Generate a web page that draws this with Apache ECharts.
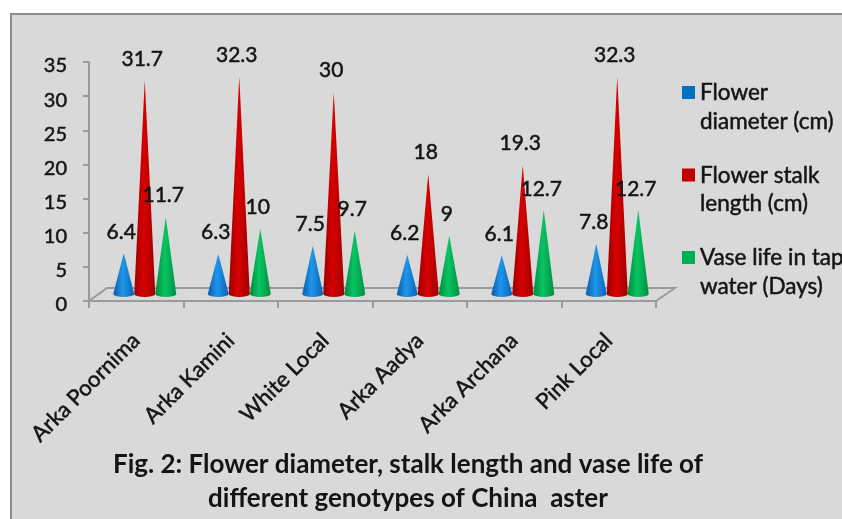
<!DOCTYPE html>
<html><head><meta charset="utf-8">
<style>html,body{margin:0;padding:0;background:#fff}#c{width:842px;height:519px}</style>
<script src="https://cdn.jsdelivr.net/npm/echarts@6/dist/echarts.min.js"></script>
</head><body><div id="c"></div>
<script>
const categories = ['Arka Poornima','Arka Kamini','White Local','Arka Aadya','Arka Archana','Pink Local'];
const flowerDiameter = [6.4,6.3,7.5,6.2,6.1,7.8];
const stalkLength = [31.7,32.3,30,18,19.3,32.3];
const vaseLife = [11.7,10,9.7,9,12.7,12.7];
const seriesNames = ['Flower\ndiameter (cm)','Flower stalk\nlength (cm)','Vase life in tap\nwater (Days)'];
const seriesColors = ['#0070c0','#c00000','#00b050'];
const shades = [['#0a5cab','#1f96ea','#0a62b4'],['#9a0000','#d80000','#a00000'],['#008a3e','#08c562','#008f42']];
const FONT = 'Lato';
const TXT = '#141414';
const HEAVY = {textBorderColor:TXT, textBorderWidth:0.5, textBorderType:'solid'};
const GRID = {left:89, top:62, width:567, height:239};
const pxPerUnit = GRID.height/35;
function cone(v){
  const H = v*pxPerUnit, e = 3;
  return 'path://M10.5 0L21 '+(H-e)+'A10.5 '+e+' 0 0 1 0 '+(H-e)+'Z';
}
function coneSeries(i, values){
  return {
    type:'pictorialBar', name:seriesNames[i], barWidth:21, barGap:0, z:3+i,
    symbolPosition:'start', symbolSize:['100%','100%'], symbolOffset:[8.5,-4], symbolClip:false,
    data:values.map(v=>({value:v, symbol:cone(v)})),
    itemStyle:{color:{type:'linear',x:0,y:0,x2:1,y2:0,colorStops:[
      {offset:0,color:shades[i][0]},{offset:.45,color:shades[i][1]},{offset:1,color:shades[i][2]}]}},
    label:Object.assign({show:true, position:'top', fontFamily:FONT, fontSize:21, color:TXT},HEAVY),
    labelLayout:{hideOverlap:false, dx:6, dy:-6}
  };
}
const chart = echarts.init(document.getElementById('c'),null,{renderer:'canvas'});
chart.setOption({
  animation:false,
  backgroundColor:'#ffffff',
  title:{
    text:'Fig. 2: Flower diameter, stalk length and vase life of\ndifferent genotypes of China  aster',
    left:403, textAlign:'center', top:443,
    textStyle:{fontFamily:FONT, fontSize:26, fontWeight:'bold', color:TXT, lineHeight:34}
  },
  legend:{
    orient:'vertical', left:682, top:78.5, itemWidth:13, itemHeight:42, itemGap:25.5, padding:0,
    icon:'path://M0 0H13V13H0ZM0 42L0 42',
    textStyle:Object.assign({fontFamily:FONT, fontSize:22.5, color:TXT, lineHeight:28.5},HEAVY),
    data:seriesNames.map((n,i)=>({name:n, itemStyle:{color:seriesColors[i]}}))
  },
  grid:Object.assign({containLabel:false},GRID),
  xAxis:{
    type:'category', data:categories,
    axisLine:{lineStyle:{color:'#9a9a9a',width:2}},
    axisTick:{show:true,alignWithLabel:false,length:7,lineStyle:{color:'#9a9a9a',width:2}},
    axisLabel:Object.assign({rotate:45, interval:0, margin:36, fontFamily:FONT, fontSize:22, color:TXT},HEAVY)
  },
  yAxis:{
    type:'value', min:0, max:35, interval:5,
    axisLine:{show:true,lineStyle:{color:'#9a9a9a',width:2}},
    axisTick:{show:true,length:6,lineStyle:{color:'#9a9a9a',width:2}},
    splitLine:{show:false},
    axisLabel:Object.assign({margin:22, fontFamily:FONT, fontSize:20, color:TXT, verticalAlign:'top', lineHeight:8},HEAVY)
  },
  graphic:[
    {type:'rect', z:-10, shape:{x:11,y:14,width:900,height:600}, style:{fill:'#d9d9d9',stroke:'#8c8c8c',lineWidth:2}},
    {type:'polyline', z:1, shape:{points:[[89,301],[107,288],[675,288],[656,301]]}, style:{fill:null,stroke:'#9a9a9a',lineWidth:2}}
  ],
  series:[coneSeries(0,flowerDiameter),coneSeries(1,stalkLength),coneSeries(2,vaseLife)]
});
</script></body></html>
